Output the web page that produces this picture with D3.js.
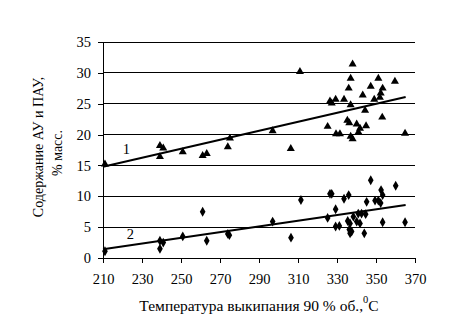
<!DOCTYPE html>
<html><head><meta charset="utf-8">
<script src="https://cdn.jsdelivr.net/npm/d3@7"></script>
<style>
body{margin:0;background:#fff;}
svg{display:block;}
text{font-family:"Liberation Serif","Times New Roman",serif;fill:#000;}
</style></head>
<body>
<svg id="c" width="457" height="325"></svg>
<script>
// Series 1 (АУ, triangles)
const s1x = [211,239.2,240.9,239.2,250.9,261.1,263.2,274,275.1,297,306.3,311,
  338,337,351.2,359.7,336,347.3,353.4,352.4,352,343.2,326.4,327.3,329.3,333.6,349.1,337,344.4,353.2,
  325.2,335.3,336.3,340.1,344.9,341.8,341,329.5,331.5,337,338,364.9];
const s1y = [15.2,18.2,17.8,16.4,17.2,16.6,16.9,18.0,19.4,20.6,17.7,30.2,
  31.4,29.1,29.1,28.6,27.5,27.8,27.5,26.7,26.0,26.4,25.4,25.1,25.7,25.7,25.7,24.8,23.9,22.8,
  21.3,22.3,21.9,21.7,21.4,21.0,20.4,20.1,20.1,19.7,19.3,20.2];
// Series 2 (ПАУ, diamonds)
const s2x = [211,239.2,240.9,239.2,250.9,261.1,263.2,274,274.8,297,306.4,311.5,
  347.3,360.1,352.6,353.4,326.4,327.3,336,333.6,345.2,349.5,351.2,352.4,329.3,325.2,340.9,342.6,344.7,338.4,
  335.5,336.7,340.1,341.8,353.4,364.9,329.3,331.2,336.3,337.5,336.7,344];
const s2y = [1.1,2.8,2.5,1.5,3.5,7.5,2.8,3.9,3.7,5.9,3.3,9.4,
  12.6,11.7,11.0,10.2,10.4,10.4,10.2,9.6,9.1,9.3,9.3,8.9,7.9,6.5,7.2,7.2,7.1,6.7,
  6.0,5.6,5.9,5.6,5.8,5.8,5.1,5.2,4.6,4.3,4.0,4.0];
// Trend lines (endpoints)
const trend1X = [210,365.2], trend1Y = [14.8,26.1];
const trend2X = [210,365.2], trend2Y = [1.4,8.6];
const xTicks = [210,230,250,270,290,310,330,350,370];
const yTicks = [0,5,10,15,20,25,30,35];
const seriesLabels = ["1","2"];
const labelPos = [[222,17.7],[224,3.9]];
const yTitle1 = "Содержание АУ и ПАУ,";
const yTitle2 = "% масс.";
const xTitleMain = "Температура выкипания 90 % об.,";
const xTitleSup = "0";
const xTitleEnd = "С";

const svg = d3.select("#c");
const L=103, R=415, T=42, B=258;
const x = d3.scaleLinear().domain([210,370]).range([L,R]);
const y = d3.scaleLinear().domain([0,35]).range([B,T]);

// gridlines
svg.append("g").selectAll("line").data(yTicks.filter(d=>d>0)).join("line")
  .attr("x1",L).attr("x2",R).attr("y1",d=>y(d)).attr("y2",d=>y(d))
  .attr("stroke","#000").attr("stroke-width",1).attr("shape-rendering","crispEdges");

const yAxis = svg.append("g").attr("transform",`translate(${L},0)`)
  .call(d3.axisLeft(y).tickValues(yTicks).tickSize(5).tickPadding(7).tickSizeOuter(0));
const xAxis = svg.append("g").attr("transform",`translate(0,${B})`)
  .call(d3.axisBottom(x).tickValues(xTicks).tickSize(5).tickPadding(11).tickSizeOuter(0));
[yAxis,xAxis].forEach(a=>{
  a.selectAll("path,line").attr("stroke","#000").attr("shape-rendering","crispEdges");
  a.selectAll("text").attr("font-size",14.5).attr("font-family","Liberation Serif");
});

// trend lines
const line = d3.line().x(d=>x(d[0])).y(d=>y(d[1]));
[[trend1X,trend1Y],[trend2X,trend2Y]].forEach(([tx,ty])=>{
  svg.append("path").datum(tx.map((v,i)=>[v,ty[i]])).attr("d",line)
    .attr("fill","none").attr("stroke","#000").attr("stroke-width",2);
});

// markers
const tri = d3.symbol().type(d3.symbolTriangle).size(28);
const dia = d3.symbol().type(d3.symbolDiamond).size(28);
svg.append("g").selectAll("path").data(s1x.map((v,i)=>[v,s1y[i]])).join("path")
  .attr("d",tri).attr("transform",d=>`translate(${x(d[0])},${y(d[1])})`).attr("fill","#000");
svg.append("g").selectAll("path").data(s2x.map((v,i)=>[v,s2y[i]])).join("path")
  .attr("d",dia).attr("transform",d=>`translate(${x(d[0])},${y(d[1])})`).attr("fill","#000");

// series labels
svg.selectAll(".sl").data(seriesLabels).join("text").attr("class","sl")
  .attr("x",(d,i)=>x(labelPos[i][0])).attr("y",(d,i)=>y(labelPos[i][1]))
  .attr("text-anchor","middle").attr("dy","0.35em").attr("font-size",14.5).text(d=>d);

// y title
svg.append("text").attr("transform","translate(43,147) rotate(-90)")
  .attr("text-anchor","middle").attr("font-size",14).text(yTitle1);
svg.append("text").attr("transform","translate(62,153) rotate(-90)")
  .attr("text-anchor","middle").attr("font-size",14).text(yTitle2);

// x title
const xt = svg.append("text").attr("x",259).attr("y",311).attr("text-anchor","middle").attr("font-size",15.5);
xt.append("tspan").text(xTitleMain);
xt.append("tspan").attr("font-size",10.5).attr("dy",-8).text(xTitleSup);
xt.append("tspan").attr("dy",8).text(xTitleEnd);
</script>
</body></html>
